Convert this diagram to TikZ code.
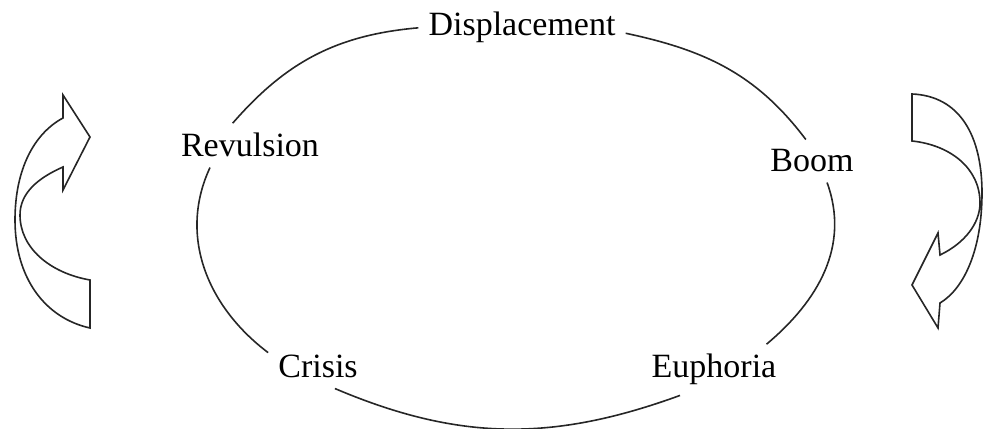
\documentclass[tikz,border=0pt]{standalone}
\usepackage{fontspec}
\setmainfont{Liberation Serif}
\tikzset{
	stage/.style = {inner sep=10pt, font=\fontsize{34}{40}\selectfont},
	cycleline/.style = {draw=black!85, line width=1.6pt},
	turnarrow/.style = {draw=black!85, line width=1.6pt, line join=miter}
}
\begin{document}
\begin{tikzpicture}[x=1pt, y=1pt]
	\useasboundingbox (0,0) rectangle (984,428);
	% Define cycle's stages
	\node (displacement) [stage, anchor=base] at (522,392) {Displacement};
	\node (revulsion) [stage, anchor=base] at (250,271) {Revulsion};
	\node (crisis) [stage, anchor=base] at (318,50) {Crisis};
	\node (euphoria) [stage, anchor=base] at (714,50) {Euphoria};
	\node (boom) [stage, anchor=base] at (812,256) {Boom};

	% Define cycle's links
	\path [cycleline] (displacement.180) to[out=185, in=49] (revulsion.128);
	\path [cycleline] (revulsion.209) to[out=245, in=143] (crisis.164);
	\path [cycleline] (crisis.-52) to[out=-23, in=200] (euphoria.217);
	\path [cycleline] (euphoria.26) to[out=40, in=-70] (boom.-55);
	\path [cycleline] (boom.106) to[out=127, in=-12] (displacement.-3);

	% Define side arrows
	\path [turnarrow] (90,100) .. controls (45,110) and (15,150) .. (15,208)
		.. controls (15,260) and (35,295) .. (63,310) -- (63,333) -- (90,291)
		-- (63,238) -- (63,261) .. controls (38,250) and (20,235) .. (20,213)
		.. controls (20,180) and (50,155) .. (90,148) -- cycle;
	\path [turnarrow] (912,334) .. controls (960,332) and (982,292) .. (982,235)
		.. controls (982,180) and (965,140) .. (940,125) -- (938,100) -- (912,143)
		-- (938,195) -- (940,173) .. controls (965,185) and (980,205) .. (980,225)
		.. controls (980,260) and (950,283) .. (912,287) -- cycle;
\end{tikzpicture}
\end{document}
